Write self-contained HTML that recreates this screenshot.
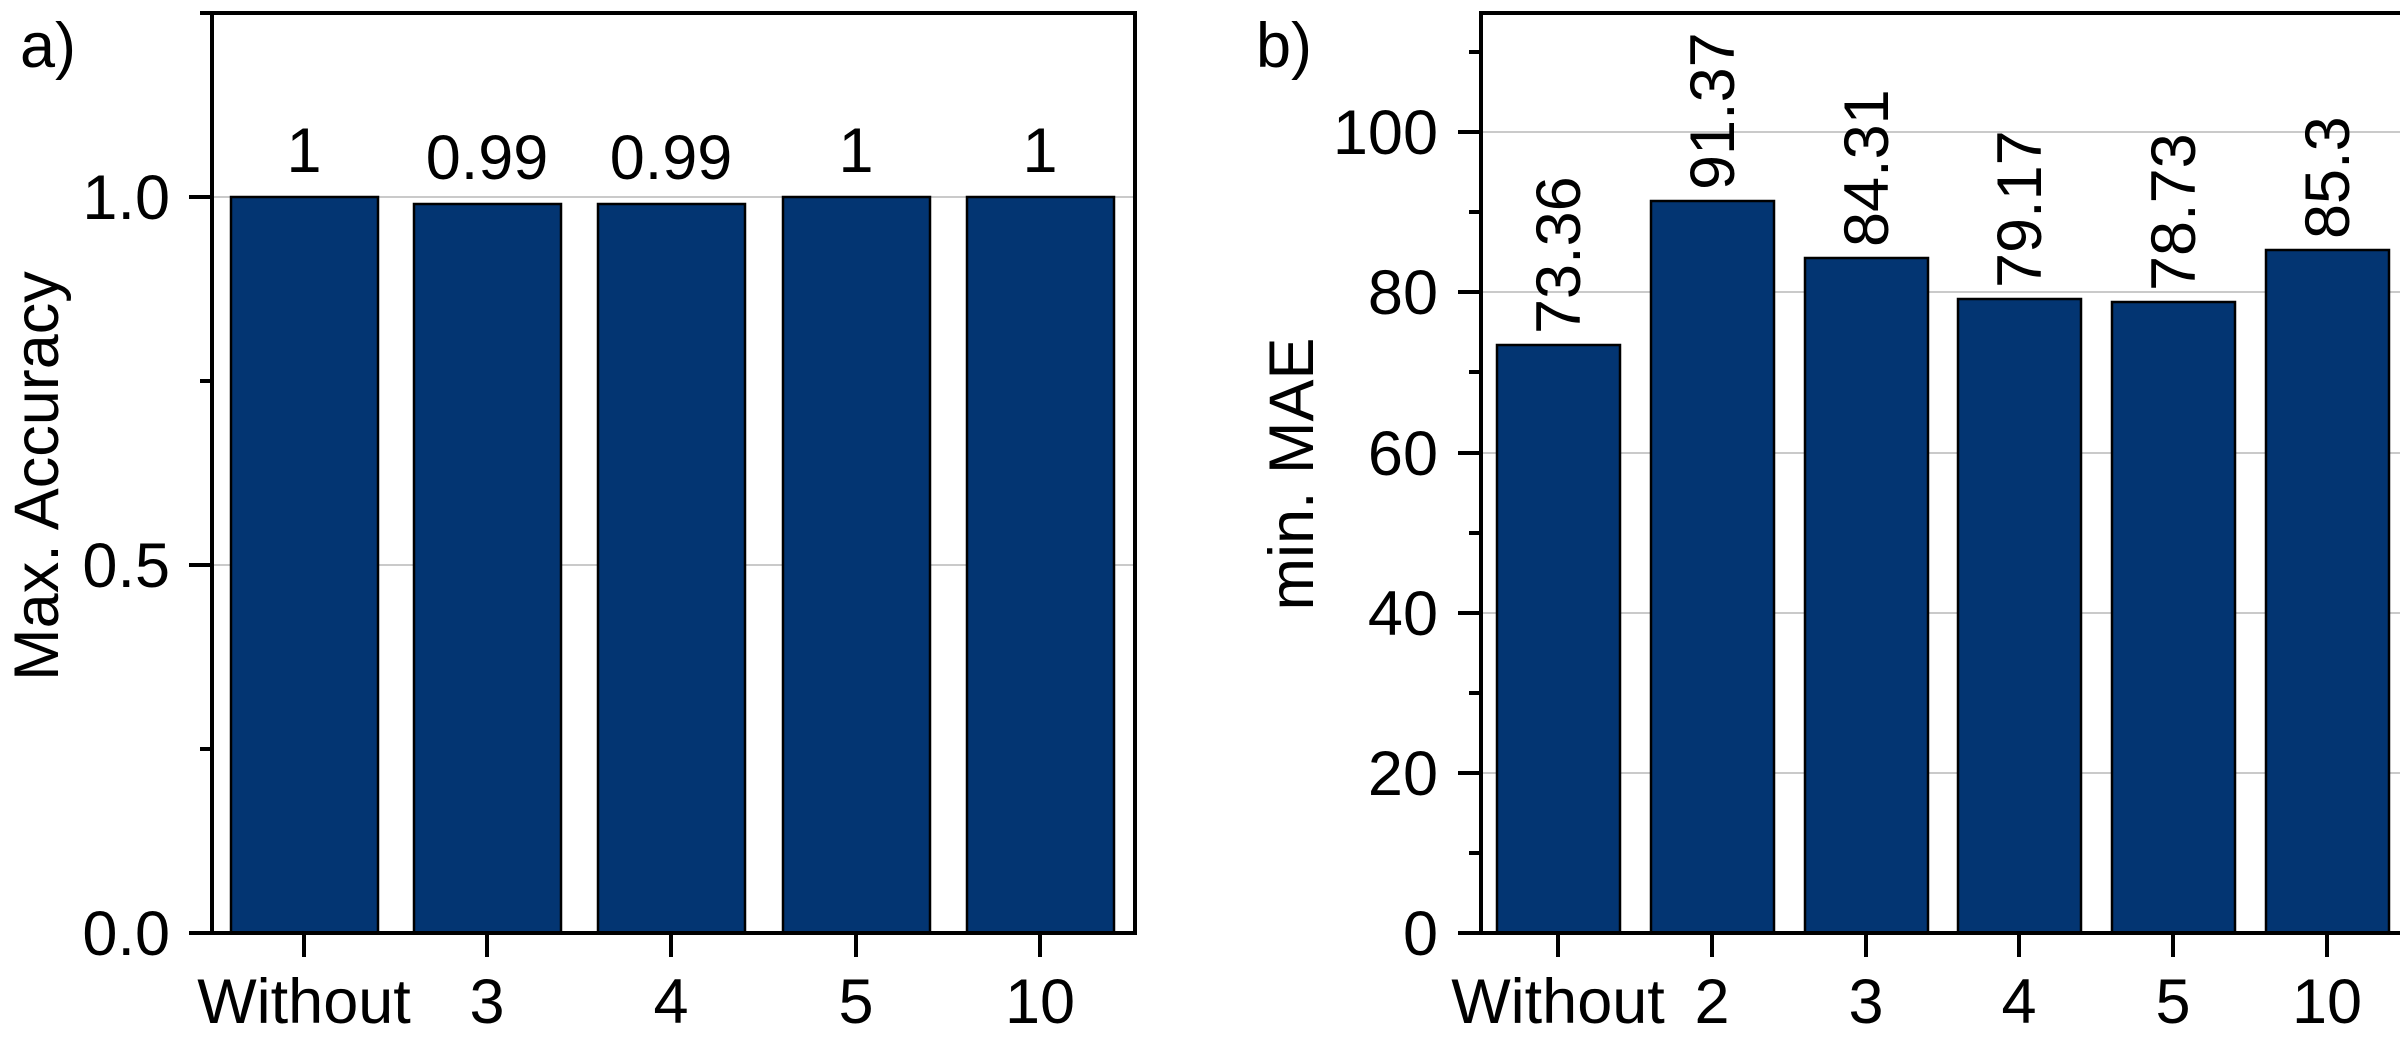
<!DOCTYPE html>
<html><head><meta charset="utf-8"><style>
html,body{margin:0;padding:0;background:#fff}
svg{display:block}
text{font-family:"Liberation Sans",Arial,sans-serif;font-size:63px;fill:#000}
</style></head><body>
<svg width="2400" height="1058" viewBox="0 0 2400 1058" xmlns="http://www.w3.org/2000/svg">
<rect width="2400" height="1058" fill="#fff"/>
<!-- Panel a -->
<g>
<line x1="212" y1="565" x2="1135" y2="565" stroke="#b8b8b8" stroke-width="1.5"/>
<line x1="212" y1="197" x2="1135" y2="197" stroke="#b8b8b8" stroke-width="1.5"/>
<g fill="#033572" stroke="#000" stroke-width="2.5">
<rect x="231" y="197" width="147" height="736"/>
<rect x="414" y="204" width="147" height="729"/>
<rect x="598" y="204" width="147" height="729"/>
<rect x="783" y="197" width="147" height="736"/>
<rect x="967" y="197" width="147" height="736"/>
</g>
<g text-anchor="middle">
<text x="304" y="172">1</text>
<text x="487" y="179">0.99</text>
<text x="671" y="179">0.99</text>
<text x="856" y="172">1</text>
<text x="1040" y="172">1</text>
</g>
<path d="M212,13 H1135 V933 H212 Z" fill="none" stroke="#000" stroke-width="4"/>
<g stroke="#000" stroke-width="4">
<line x1="189" y1="933" x2="212" y2="933"/>
<line x1="189" y1="565" x2="212" y2="565"/>
<line x1="189" y1="197" x2="212" y2="197"/>
<line x1="200" y1="749" x2="212" y2="749"/>
<line x1="200" y1="381" x2="212" y2="381"/>
<line x1="200" y1="13" x2="212" y2="13"/>
<line x1="304" y1="933" x2="304" y2="957"/>
<line x1="487" y1="933" x2="487" y2="957"/>
<line x1="671" y1="933" x2="671" y2="957"/>
<line x1="856" y1="933" x2="856" y2="957"/>
<line x1="1040" y1="933" x2="1040" y2="957"/>
</g>
<g text-anchor="end">
<text x="170" y="955">0.0</text>
<text x="170" y="587">0.5</text>
<text x="170" y="219">1.0</text>
</g>
<g text-anchor="middle">
<text x="304" y="1023">Without</text>
<text x="487" y="1023">3</text>
<text x="671" y="1023">4</text>
<text x="856" y="1023">5</text>
<text x="1040" y="1023">10</text>
</g>
<text x="58" y="476" text-anchor="middle" transform="rotate(-90 58 476)">Max. Accuracy</text>
<text x="20" y="67">a)</text>
</g>
<!-- Panel b -->
<g>
<g stroke="#b8b8b8" stroke-width="1.5">
<line x1="1481" y1="773" x2="2400" y2="773"/>
<line x1="1481" y1="613" x2="2400" y2="613"/>
<line x1="1481" y1="453" x2="2400" y2="453"/>
<line x1="1481" y1="292" x2="2400" y2="292"/>
<line x1="1481" y1="132" x2="2400" y2="132"/>
</g>
<g fill="#033572" stroke="#000" stroke-width="2.5">
<rect x="1497" y="345" width="123" height="588"/>
<rect x="1651" y="201" width="123" height="732"/>
<rect x="1805" y="258" width="123" height="675"/>
<rect x="1958" y="299" width="123" height="634"/>
<rect x="2112" y="302" width="123" height="631"/>
<rect x="2266" y="250" width="123" height="683"/>
</g>
<g>
<text x="1580" y="334" transform="rotate(-90 1580 334)">73.36</text>
<text x="1734" y="190" transform="rotate(-90 1734 190)">91.37</text>
<text x="1888" y="247" transform="rotate(-90 1888 247)">84.31</text>
<text x="2041" y="288" transform="rotate(-90 2041 288)">79.17</text>
<text x="2195" y="291" transform="rotate(-90 2195 291)">78.73</text>
<text x="2349" y="239" transform="rotate(-90 2349 239)">85.3</text>
</g>
<path d="M2410,13 H1481 V933 H2410" fill="none" stroke="#000" stroke-width="4"/>
<g stroke="#000" stroke-width="4">
<line x1="1458" y1="933" x2="1481" y2="933"/>
<line x1="1458" y1="773" x2="1481" y2="773"/>
<line x1="1458" y1="613" x2="1481" y2="613"/>
<line x1="1458" y1="453" x2="1481" y2="453"/>
<line x1="1458" y1="292" x2="1481" y2="292"/>
<line x1="1458" y1="132" x2="1481" y2="132"/>
<line x1="1469" y1="853" x2="1481" y2="853"/>
<line x1="1469" y1="693" x2="1481" y2="693"/>
<line x1="1469" y1="533" x2="1481" y2="533"/>
<line x1="1469" y1="372" x2="1481" y2="372"/>
<line x1="1469" y1="212" x2="1481" y2="212"/>
<line x1="1469" y1="52" x2="1481" y2="52"/>
<line x1="1558" y1="933" x2="1558" y2="957"/>
<line x1="1712" y1="933" x2="1712" y2="957"/>
<line x1="1866" y1="933" x2="1866" y2="957"/>
<line x1="2019" y1="933" x2="2019" y2="957"/>
<line x1="2173" y1="933" x2="2173" y2="957"/>
<line x1="2327" y1="933" x2="2327" y2="957"/>
</g>
<g text-anchor="end">
<text x="1438" y="955">0</text>
<text x="1438" y="795">20</text>
<text x="1438" y="635">40</text>
<text x="1438" y="475">60</text>
<text x="1438" y="314">80</text>
<text x="1438" y="154">100</text>
</g>
<g text-anchor="middle">
<text x="1558" y="1023">Without</text>
<text x="1712" y="1023">2</text>
<text x="1866" y="1023">3</text>
<text x="2019" y="1023">4</text>
<text x="2173" y="1023">5</text>
<text x="2327" y="1023">10</text>
</g>
<text x="1313" y="474" text-anchor="middle" transform="rotate(-90 1313 474)">min. MAE</text>
<text x="1256" y="67">b)</text>
</g>
</svg>
</body></html>
